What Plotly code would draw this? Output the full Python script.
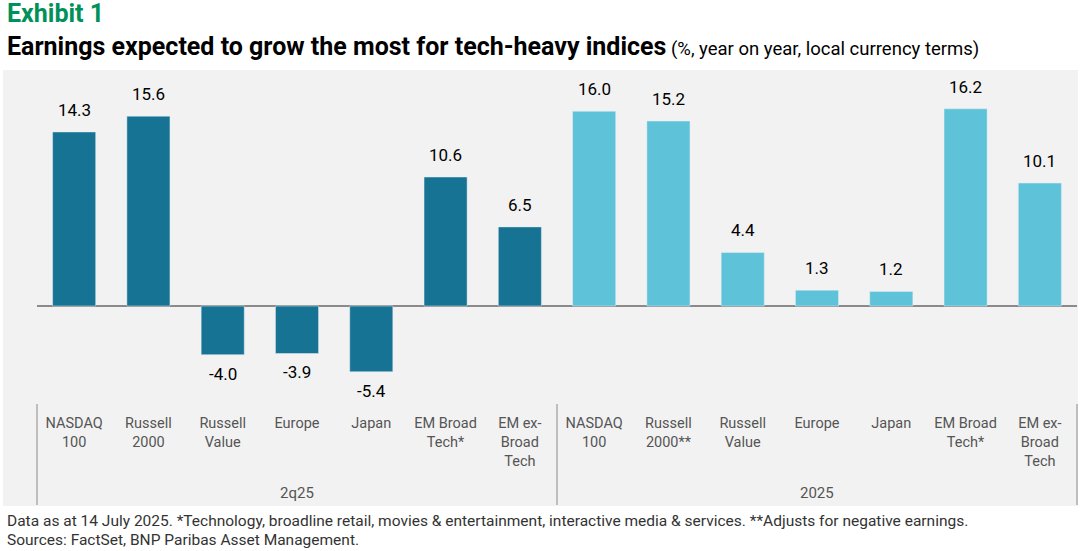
import plotly.graph_objects as go

periods = ['2q25'] * 7 + ['2025'] * 7
indices = ['NASDAQ<br>100', 'Russell<br>2000', 'Russell<br>Value', 'Europe', 'Japan',
           'EM Broad<br>Tech*', 'EM ex-<br>Broad<br>Tech',
           'NASDAQ<br>100', 'Russell<br>2000**', 'Russell<br>Value', 'Europe', 'Japan',
           'EM Broad<br>Tech*', 'EM ex-<br>Broad<br>Tech']
growth = [14.3, 15.6, -4.0, -3.9, -5.4, 10.6, 6.5,
          16.0, 15.2, 4.4, 1.3, 1.2, 16.2, 10.1]

DARK = '#167394'
LIGHT = '#5ec2d8'
FONT = 'Roboto'
GRID = '#8a8a8a'

# unique category keys so repeated index names stay in their own group
keys = [f'{p} {n}' for p, n in zip(periods, indices)]
groups = list(dict.fromkeys(periods))

fig = go.Figure(go.Bar(
    x=keys,
    y=growth,
    marker_color=[DARK if p == '2q25' else LIGHT for p in periods],
    width=0.58,
    hoverinfo='skip',
))

# value labels, a little further off the bar ends than plotly's own outside text
value_notes = [dict(
    text=f'{v:.1f}', xref='x', yref='y', x=k, y=v,
    xanchor='center', yanchor='bottom' if v >= 0 else 'top',
    yshift=10 if v >= 0 else -7, showarrow=False,
    font=dict(size=17, color='black', family=FONT)) for k, v in zip(keys, growth)]

# group labels centred under each block of bars
group_notes = []
for g in groups:
    members = [k for k, p in zip(keys, periods) if p == g]
    group_notes.append(dict(
        text=g, xref='x', yref='paper', x=members[len(members) // 2], y=-0.2705,
        xanchor='center', yanchor='middle', showarrow=False,
        font=dict(size=15, color='#555555', family=FONT)))

# dividers at both ends and between groups
n_groups = len(groups)
dividers = [dict(type='line', xref='paper', yref='paper',
                 x0=i / n_groups, x1=i / n_groups, y0=0, y1=-0.307,
                 line=dict(color=GRID, width=1)) for i in range(n_groups + 1)]

fig.update_layout(
    width=1081, height=551,
    margin=dict(l=37, r=4, t=75, b=147),
    paper_bgcolor='white',
    plot_bgcolor='rgba(0,0,0,0)',
    showlegend=False,
    font=dict(family=FONT),
    xaxis=dict(
        type='category',
        tickvals=keys,
        ticktext=indices,
        showgrid=False,
        showline=False,
        ticks='outside',
        ticklen=6,
        tickcolor='rgba(0,0,0,0)',
        tickfont=dict(size=14.5, color='#555555', family=FONT),
        automargin=False,
    ),
    yaxis=dict(
        range=[-8.05, 18.98],
        showticklabels=False,
        showgrid=False,
        zeroline=True,
        zerolinecolor=GRID,
        zerolinewidth=1.5,
        automargin=False,
    ),
    shapes=[dict(
        type='rect', xref='paper', yref='paper',
        x0=-0.0327, x1=1.001, y0=-0.310, y1=1.0152,
        fillcolor='#f2f2f2', line_width=0, layer='below',
    )] + dividers,
    annotations=value_notes + group_notes + [
        dict(text='<b>Exhibit 1</b>', xref='paper', yref='paper',
             x=-0.031, y=1.188, xanchor='left', yanchor='middle', showarrow=False,
             font=dict(size=25, color='#00915a', family=FONT)),
        dict(text='<b>Earnings expected to grow the most for tech-heavy indices</b>'
                  '<span style="font-size:18.5px"> (%, year on year, local currency terms)</span>',
             xref='paper', yref='paper',
             x=-0.031, y=1.088, xanchor='left', yanchor='middle', showarrow=False,
             font=dict(size=25, color='black', family=FONT)),
        dict(text='Data as at 14 July 2025. *Technology, broadline retail, movies & entertainment, '
                  'interactive media & services. **Adjusts for negative earnings.',
             xref='paper', yref='paper', align='left',
             x=-0.031, y=-0.3556, xanchor='left', yanchor='middle', showarrow=False,
             font=dict(size=15.5, color='#333333', family=FONT)),
        dict(text='Sources: FactSet, BNP Paribas Asset Management.',
             xref='paper', yref='paper', align='left',
             x=-0.031, y=-0.4134, xanchor='left', yanchor='middle', showarrow=False,
             font=dict(size=15.5, color='#333333', family=FONT)),
    ],
)

# drop the browser's default page margin so the figure sits at the window corner
fig.write_html('out.html', config={'displayModeBar': False},
               post_script="document.body.style.margin='0';")
